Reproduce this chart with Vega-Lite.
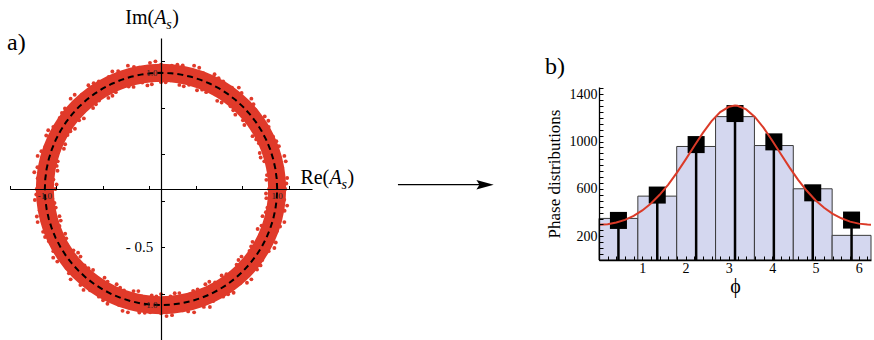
{
  "$schema": "https://vega.github.io/schema/vega-lite/v6.json",
  "padding": {"left": 7, "top": 7, "right": 0, "bottom": 0},
  "background": "white",
  "spacing": 51,
  "config": {
    "view": {"stroke": null},
    "font": "Liberation Serif",
    "axis": {"labelFont": "Liberation Serif", "titleFont": "Liberation Serif", "domainColor": "black", "tickColor": "black", "labelColor": "black", "titleColor": "black", "grid": false, "labelFlush": false, "labelOverlap": false, "titleFontWeight": "normal"}
  },
  "datasets": {
    "circle": [
      {"k":0,"re":1,"im":0},{"k":1,"re":0.9962,"im":0.0872},{"k":2,"re":0.9848,"im":0.1736},{"k":3,"re":0.9659,"im":0.2588},{"k":4,"re":0.9397,"im":0.342},{"k":5,"re":0.9063,"im":0.4226},{"k":6,"re":0.866,"im":0.5},{"k":7,"re":0.8192,"im":0.5736},{"k":8,"re":0.766,"im":0.6428},{"k":9,"re":0.7071,"im":0.7071},{"k":10,"re":0.6428,"im":0.766},{"k":11,"re":0.5736,"im":0.8192},{"k":12,"re":0.5,"im":0.866},{"k":13,"re":0.4226,"im":0.9063},{"k":14,"re":0.342,"im":0.9397},{"k":15,"re":0.2588,"im":0.9659},{"k":16,"re":0.1736,"im":0.9848},{"k":17,"re":0.0872,"im":0.9962},{"k":18,"re":0,"im":1},
      {"k":19,"re":-0.0872,"im":0.9962},{"k":20,"re":-0.1736,"im":0.9848},{"k":21,"re":-0.2588,"im":0.9659},{"k":22,"re":-0.342,"im":0.9397},{"k":23,"re":-0.4226,"im":0.9063},{"k":24,"re":-0.5,"im":0.866},{"k":25,"re":-0.5736,"im":0.8192},{"k":26,"re":-0.6428,"im":0.766},{"k":27,"re":-0.7071,"im":0.7071},{"k":28,"re":-0.766,"im":0.6428},{"k":29,"re":-0.8192,"im":0.5736},{"k":30,"re":-0.866,"im":0.5},{"k":31,"re":-0.9063,"im":0.4226},{"k":32,"re":-0.9397,"im":0.342},{"k":33,"re":-0.9659,"im":0.2588},{"k":34,"re":-0.9848,"im":0.1736},{"k":35,"re":-0.9962,"im":0.0872},{"k":36,"re":-1,"im":0},
      {"k":37,"re":-0.9962,"im":-0.0872},{"k":38,"re":-0.9848,"im":-0.1736},{"k":39,"re":-0.9659,"im":-0.2588},{"k":40,"re":-0.9397,"im":-0.342},{"k":41,"re":-0.9063,"im":-0.4226},{"k":42,"re":-0.866,"im":-0.5},{"k":43,"re":-0.8192,"im":-0.5736},{"k":44,"re":-0.766,"im":-0.6428},{"k":45,"re":-0.7071,"im":-0.7071},{"k":46,"re":-0.6428,"im":-0.766},{"k":47,"re":-0.5736,"im":-0.8192},{"k":48,"re":-0.5,"im":-0.866},{"k":49,"re":-0.4226,"im":-0.9063},{"k":50,"re":-0.342,"im":-0.9397},{"k":51,"re":-0.2588,"im":-0.9659},{"k":52,"re":-0.1736,"im":-0.9848},{"k":53,"re":-0.0872,"im":-0.9962},{"k":54,"re":0,"im":-1},
      {"k":55,"re":0.0872,"im":-0.9962},{"k":56,"re":0.1736,"im":-0.9848},{"k":57,"re":0.2588,"im":-0.9659},{"k":58,"re":0.342,"im":-0.9397},{"k":59,"re":0.4226,"im":-0.9063},{"k":60,"re":0.5,"im":-0.866},{"k":61,"re":0.5736,"im":-0.8192},{"k":62,"re":0.6428,"im":-0.766},{"k":63,"re":0.7071,"im":-0.7071},{"k":64,"re":0.766,"im":-0.6428},{"k":65,"re":0.8192,"im":-0.5736},{"k":66,"re":0.866,"im":-0.5},{"k":67,"re":0.9063,"im":-0.4226},{"k":68,"re":0.9397,"im":-0.342},{"k":69,"re":0.9659,"im":-0.2588},{"k":70,"re":0.9848,"im":-0.1736},{"k":71,"re":0.9962,"im":-0.0872},{"k":72,"re":1,"im":0}
    ],
    "ring": [
      {"re":1.07,"im":0},{"re":0.93,"im":0},{"re":1.086,"im":0.095},{"re":0.907,"im":0.079},{"re":1.044,"im":0.184},{"re":0.926,"im":0.163},{"re":1.062,"im":0.285},{"re":0.889,"im":0.238},{"re":1.015,"im":0.369},{"re":0.85,"im":0.31},{"re":0.965,"im":0.45},{"re":0.843,"im":0.393},
      {"re":0.927,"im":0.535},{"re":0.788,"im":0.455},{"re":0.893,"im":0.625},{"re":0.77,"im":0.539},{"re":0.812,"im":0.681},{"re":0.705,"im":0.591},{"re":0.778,"im":0.778},{"re":0.64,"im":0.64},{"re":0.694,"im":0.827},{"re":0.598,"im":0.712},{"re":0.611,"im":0.872},{"re":0.522,"im":0.745},
      {"re":0.535,"im":0.927},{"re":0.47,"im":0.814},{"re":0.461,"im":0.988},{"re":0.389,"im":0.834},{"re":0.363,"im":0.996},{"re":0.31,"im":0.85},{"re":0.285,"im":1.062},{"re":0.241,"im":0.898},{"re":0.187,"im":1.064},{"re":0.158,"im":0.896},{"re":0.093,"im":1.061},{"re":0.082,"im":0.936},
      {"re":0,"im":1.07},{"re":0,"im":0.92},{"re":-0.095,"im":1.086},{"re":-0.079,"im":0.902},{"re":-0.184,"im":1.044},{"re":-0.161,"im":0.916},{"re":-0.285,"im":1.062},{"re":-0.236,"im":0.879},{"re":-0.369,"im":1.015},{"re":-0.321,"im":0.883},{"re":-0.45,"im":0.965},{"re":-0.389,"im":0.834},
      {"re":-0.535,"im":0.927},{"re":-0.453,"im":0.784},{"re":-0.625,"im":0.893},{"re":-0.533,"im":0.762},{"re":-0.681,"im":0.812},{"re":-0.585,"im":0.697},{"re":-0.778,"im":0.778},{"re":-0.665,"im":0.665},{"re":-0.827,"im":0.694},{"re":-0.705,"im":0.591},{"re":-0.872,"im":0.611},{"re":-0.741,"im":0.519},
      {"re":-0.927,"im":0.535},{"re":-0.805,"im":0.465},{"re":-0.988,"im":0.461},{"re":-0.825,"im":0.385},{"re":-0.996,"im":0.363},{"re":-0.883,"im":0.321},{"re":-1.062,"im":0.285},{"re":-0.889,"im":0.238},{"re":-1.064,"im":0.187},{"re":-0.891,"im":0.157},{"re":-1.061,"im":0.093},{"re":-0.926,"im":0.081},
      {"re":-1.07,"im":0},{"re":-0.91,"im":0},{"re":-1.086,"im":-0.095},{"re":-0.936,"im":-0.082},{"re":-1.044,"im":-0.184},{"re":-0.906,"im":-0.16},{"re":-1.062,"im":-0.285},{"re":-0.874,"im":-0.234},{"re":-1.015,"im":-0.369},{"re":-0.874,"im":-0.318},{"re":-0.965,"im":-0.45},{"re":-0.825,"im":-0.385},
      {"re":-0.927,"im":-0.535},{"re":-0.814,"im":-0.47},{"re":-0.893,"im":-0.625},{"re":-0.754,"im":-0.528},{"re":-0.812,"im":-0.681},{"re":-0.693,"im":-0.582},{"re":-0.778,"im":-0.778},{"re":-0.658,"im":-0.658},{"re":-0.694,"im":-0.827},{"re":-0.585,"im":-0.697},{"re":-0.611,"im":-0.872},{"re":-0.539,"im":-0.77},
      {"re":-0.535,"im":-0.927},{"re":-0.46,"im":-0.797},{"re":-0.461,"im":-0.988},{"re":-0.382,"im":-0.82},{"re":-0.363,"im":-0.996},{"re":-0.318,"im":-0.874},{"re":-0.285,"im":-1.062},{"re":-0.236,"im":-0.879},{"re":-0.187,"im":-1.064},{"re":-0.163,"im":-0.926},{"re":-0.093,"im":-1.061},{"re":-0.08,"im":-0.917},
      {"re":0,"im":-1.07},{"re":0,"im":-0.905},{"re":0.095,"im":-1.086},{"re":0.081,"im":-0.926},{"re":0.184,"im":-1.044},{"re":0.158,"im":-0.896},{"re":0.285,"im":-1.062},{"re":0.243,"im":-0.908},{"re":0.369,"im":-1.015},{"re":0.315,"im":-0.865},{"re":0.45,"im":-0.965},{"re":0.382,"im":-0.82},
      {"re":0.535,"im":-0.927},{"re":0.465,"im":-0.805},{"re":0.625,"im":-0.893},{"re":0.522,"im":-0.745},{"re":0.681,"im":-0.812},{"re":0.604,"im":-0.72},{"re":0.778,"im":-0.778},{"re":0.651,"im":-0.651},{"re":0.827,"im":-0.694},{"re":0.693,"im":-0.582},{"re":0.872,"im":-0.611},{"re":0.762,"im":-0.533},
      {"re":0.927,"im":-0.535},{"re":0.788,"im":-0.455},{"re":0.988,"im":-0.461},{"re":0.852,"im":-0.397},{"re":0.996,"im":-0.363},{"re":0.865,"im":-0.315},{"re":1.062,"im":-0.285},{"re":0.874,"im":-0.234},{"re":1.064,"im":-0.187},{"re":0.916,"im":-0.161},{"re":1.061,"im":-0.093},{"re":0.907,"im":-0.079},
      {"re":1.079,"im":0.047},{"re":0.912,"im":0.12},{"re":1.074,"im":0.238},{"re":0.858,"im":0.271},{"re":0.993,"im":0.411},{"re":0.82,"im":0.427},{"re":0.924,"im":0.588},{"re":0.718,"im":0.551},{"re":0.796,"im":0.73},{"re":0.622,"im":0.678},{"re":0.67,"im":0.873},{"re":0.484,"im":0.759},{"re":0.496,"im":0.954},{"re":0.354,"im":0.855},{"re":0.329,"im":1.044},{"re":0.196,"im":0.884},{"re":0.141,"im":1.071},{"re":0.04,"im":0.919},
      {"re":-0.048,"im":1.099},{"re":-0.117,"im":0.892},{"re":-0.233,"im":1.05},{"re":-0.278,"im":0.882},{"re":-0.419,"im":1.012},{"re":-0.418,"im":0.803},{"re":-0.58,"im":0.911},{"re":-0.56,"im":0.73},{"re":-0.743,"im":0.811},{"re":-0.664,"im":0.608},{"re":-0.853,"im":0.654},{"re":-0.78,"im":0.497},{"re":-0.971,"im":0.506},{"re":-0.836,"im":0.346},{"re":-1.03,"im":0.325},{"re":-0.898,"im":0.199},{"re":-1.091,"im":0.144},{"re":-0.899,"im":0.039},
      {"re":-1.074,"im":-0.047},{"re":-0.917,"im":-0.121},{"re":-1.069,"im":-0.237},{"re":-0.863,"im":-0.272},{"re":-0.998,"im":-0.413},{"re":-0.816,"im":-0.425},{"re":-0.928,"im":-0.591},{"re":-0.714,"im":-0.548},{"re":-0.793,"im":-0.726},{"re":-0.625,"im":-0.682},{"re":-0.667,"im":-0.869},{"re":-0.486,"im":-0.763},{"re":-0.499,"im":-0.958},{"re":-0.352,"im":-0.85},{"re":-0.331,"im":-1.049},{"re":-0.195,"im":-0.879},{"re":-0.14,"im":-1.066},{"re":-0.04,"im":-0.924},
      {"re":0.048,"im":-1.094},{"re":0.118,"im":-0.897},{"re":0.234,"im":-1.054},{"re":0.277,"im":-0.877},{"re":0.421,"im":-1.016},{"re":0.416,"im":-0.798},{"re":0.578,"im":-0.907},{"re":0.563,"im":-0.734},{"re":0.74,"im":-0.807},{"re":0.667,"im":-0.611},{"re":0.857,"im":-0.658},{"re":0.776,"im":-0.494},{"re":0.976,"im":-0.508},{"re":0.832,"im":-0.344},{"re":1.025,"im":-0.323},{"re":0.903,"im":-0.2},{"re":1.086,"im":-0.143},{"re":0.904,"im":-0.039}
    ],
    "bins": [
      {"phi":0,"phi_end":0.8976,"value":351},
      {"phi":0.8976,"phi_end":1.7952,"value":539},
      {"phi":1.7952,"phi_end":2.6928,"value":958},
      {"phi":2.6928,"phi_end":3.5904,"value":1210},
      {"phi":3.5904,"phi_end":4.488,"value":966},
      {"phi":4.488,"phi_end":5.3856,"value":601},
      {"phi":5.3856,"phi_end":6.2832,"value":208}
    ],
    "points": [
      {"phi":0.449,"value":334},{"phi":1.346,"value":548},{"phi":2.244,"value":974},{"phi":3.142,"value":1236},{"phi":4.039,"value":997},{"phi":4.937,"value":567},{"phi":5.834,"value":337}
    ],
    "fit": [
      {"phi":0,"value":298},{"phi":0.2,"value":302},{"phi":0.4,"value":316},{"phi":0.6,"value":339},{"phi":0.8,"value":373},{"phi":1.0,"value":418},{"phi":1.2,"value":477},{"phi":1.4,"value":550},{"phi":1.6,"value":637},{"phi":1.8,"value":737},{"phi":2.0,"value":847},{"phi":2.2,"value":962},{"phi":2.4,"value":1073},{"phi":2.6,"value":1172},{"phi":2.8,"value":1248},{"phi":3.0,"value":1293},{"phi":3.1416,"value":1303},{"phi":3.2,"value":1301},{"phi":3.4,"value":1271},{"phi":3.6,"value":1207},{"phi":3.8,"value":1117},{"phi":4.0,"value":1009},{"phi":4.2,"value":894},{"phi":4.4,"value":782},{"phi":4.6,"value":677},{"phi":4.8,"value":584},{"phi":5.0,"value":505},{"phi":5.2,"value":441},{"phi":5.4,"value":390},{"phi":5.6,"value":352},{"phi":5.8,"value":324},{"phi":6.0,"value":307},{"phi":6.2,"value":299},{"phi":6.2832,"value":298}
    ],
    "yLabels": [
      {"re":-0.03,"im":1.0,"label":"1.0"},
      {"re":-0.03,"im":-1.0,"label":"-1.0"}
    ],
    "xLabels": [
      {"re":1.0,"im":-0.03,"label":"1.0"},
      {"re":-1.0,"im":-0.03,"label":"-1.0"}
    ]
  },
  "hconcat": [
    {
      "width": 302,
      "height": 302,
      "layer": [
        {
          "data": {"name": "circle"},
          "mark": {"type": "line", "color": "#e03a2a", "strokeWidth": 18, "strokeCap": "round", "strokeJoin": "round"},
          "encoding": {
            "x": {"field": "re", "type": "quantitative", "scale": {"domain": [-1.3, 1.3], "nice": false, "zero": false},
              "axis": {"orient": "bottom", "offset": -151, "zindex": 1, "values": [-1.3,-1.2,-1.1,-1.0,-0.9,-0.8,-0.7,-0.6,-0.5,-0.4,-0.3,-0.2,-0.1,0,0.1,0.2,0.3,0.4,0.5,0.6,0.7,0.8,0.9,1.0,1.1,1.2,1.3],
                "tickSize": -3.5, "tickWidth": 1, "domainWidth": 1.2, "labels": false, "title": null}},
            "y": {"field": "im", "type": "quantitative", "scale": {"domain": [-1.3, 1.3], "nice": false, "zero": false},
              "axis": {"orient": "left", "offset": -151, "zindex": 1, "values": [-1.3,-1.2,-1.1,-1.0,-0.9,-0.8,-0.7,-0.6,-0.5,-0.4,-0.3,-0.2,-0.1,0,0.1,0.2,0.3,0.4,0.5,0.6,0.7,0.8,0.9,1.0,1.1,1.2,1.3],
                "tickSize": -3.5, "tickWidth": 1, "domainWidth": 1.2, "labels": false, "title": null}},
            "order": {"field": "k", "type": "quantitative"}
          }
        },
        {
          "data": {"name": "ring"},
          "mark": {"type": "circle", "color": "#e03a2a", "size": 15, "opacity": 1},
          "encoding": {
            "x": {"field": "re", "type": "quantitative"},
            "y": {"field": "im", "type": "quantitative"}
          }
        },
        {
          "data": {"name": "circle"},
          "mark": {"type": "line", "color": "black", "strokeWidth": 2, "strokeDash": [6, 4]},
          "encoding": {
            "x": {"field": "re", "type": "quantitative"},
            "y": {"field": "im", "type": "quantitative"},
            "order": {"field": "k", "type": "quantitative"}
          }
        },
        {
          "data": {"name": "yLabels"},
          "mark": {"type": "text", "align": "right", "baseline": "middle", "fontSize": 9, "font": "Liberation Serif", "color": "#222"},
          "encoding": {
            "x": {"field": "re", "type": "quantitative"},
            "y": {"field": "im", "type": "quantitative"},
            "text": {"field": "label"}
          }
        },
        {
          "data": {"name": "xLabels"},
          "mark": {"type": "text", "align": "center", "baseline": "top", "fontSize": 9, "font": "Liberation Serif", "color": "#222"},
          "encoding": {
            "x": {"field": "re", "type": "quantitative"},
            "y": {"field": "im", "type": "quantitative"},
            "text": {"field": "label"}
          }
        },
        {
          "data": {"values": [{}]},
          "mark": {"type": "text", "text": "- 0.5", "align": "right", "baseline": "middle", "fontSize": 15, "font": "Liberation Serif", "color": "black"},
          "encoding": {"x": {"datum": -0.066}, "y": {"datum": -0.5}}
        },
        {
          "data": {"values": [{}]},
          "mark": {"type": "rule", "color": "black", "strokeWidth": 1.3},
          "encoding": {"x": {"datum": 2.04}, "x2": {"datum": 2.8}, "y": {"datum": 0.037}}
        },
        {
          "data": {"values": [{}]},
          "mark": {"type": "point", "shape": "M-1,-0.55L1,0L-1,0.55L-0.65,0Z", "filled": true, "color": "black", "size": 300, "opacity": 1},
          "encoding": {"x": {"datum": 2.79}, "y": {"datum": 0.037}}
        },
        {
          "data": {"values": [{}]},
          "mark": {"type": "text", "text": "a)", "align": "left", "baseline": "alphabetic", "fontSize": 24, "font": "Liberation Serif", "color": "black"},
          "encoding": {"x": {"datum": -1.325}, "y": {"datum": 1.198}}
        },
        {
          "data": {"values": [{}]},
          "mark": {"type": "text", "text": "Re(", "align": "left", "baseline": "alphabetic", "fontSize": 20, "font": "Liberation Serif", "color": "black"},
          "encoding": {"x": {"datum": 1.2}, "y": {"datum": 0.043}}
        },
        {
          "data": {"values": [{}]},
          "mark": {"type": "text", "text": "A", "align": "left", "baseline": "alphabetic", "fontSize": 20, "fontStyle": "italic", "font": "Liberation Serif", "color": "black", "dx": 29},
          "encoding": {"x": {"datum": 1.2}, "y": {"datum": 0.043}}
        },
        {
          "data": {"values": [{}]},
          "mark": {"type": "text", "text": "s", "align": "left", "baseline": "alphabetic", "fontSize": 14, "fontStyle": "italic", "font": "Liberation Serif", "color": "black", "dx": 41, "dy": 5},
          "encoding": {"x": {"datum": 1.2}, "y": {"datum": 0.043}}
        },
        {
          "data": {"values": [{}]},
          "mark": {"type": "text", "text": ")", "align": "left", "baseline": "alphabetic", "fontSize": 20, "font": "Liberation Serif", "color": "black", "dx": 47},
          "encoding": {"x": {"datum": 1.2}, "y": {"datum": 0.043}}
        },
        {
          "data": {"values": [{}]},
          "mark": {"type": "text", "text": "Im(", "align": "left", "baseline": "alphabetic", "fontSize": 20, "font": "Liberation Serif", "color": "black"},
          "encoding": {"x": {"datum": -0.307}, "y": {"datum": 1.422}}
        },
        {
          "data": {"values": [{}]},
          "mark": {"type": "text", "text": "A", "align": "left", "baseline": "alphabetic", "fontSize": 20, "fontStyle": "italic", "font": "Liberation Serif", "color": "black", "dx": 29},
          "encoding": {"x": {"datum": -0.307}, "y": {"datum": 1.422}}
        },
        {
          "data": {"values": [{}]},
          "mark": {"type": "text", "text": "s", "align": "left", "baseline": "alphabetic", "fontSize": 14, "fontStyle": "italic", "font": "Liberation Serif", "color": "black", "dx": 41, "dy": 5},
          "encoding": {"x": {"datum": -0.307}, "y": {"datum": 1.422}}
        },
        {
          "data": {"values": [{}]},
          "mark": {"type": "text", "text": ")", "align": "left", "baseline": "alphabetic", "fontSize": 20, "font": "Liberation Serif", "color": "black", "dx": 47},
          "encoding": {"x": {"datum": -0.307}, "y": {"datum": 1.422}}
        }
      ]
    },
    {
      "spacing": 0,
      "vconcat": [
        {
          "width": 10,
          "height": 17,
          "data": {"values": []},
          "mark": "point"
        },
        {
          "width": 272,
          "height": 173,
          "title": {"text": "b)", "anchor": "start", "frame": "bounds", "fontSize": 24, "font": "Liberation Serif", "fontWeight": "normal", "color": "black", "offset": 2},
          "encoding": {
            "x": {"field": "phi", "type": "quantitative", "scale": {"domain": [0, 6.2832], "nice": false, "zero": false},
              "axis": {"values": [0,0.2,0.4,0.6,0.8,1,1.2,1.4,1.6,1.8,2,2.2,2.4,2.6,2.8,3,3.2,3.4,3.6,3.8,4,4.2,4.4,4.6,4.8,5,5.2,5.4,5.6,5.8,6,6.2],
                "zindex": 1, "tickSize": -4, "domainWidth": 1.3, "labelFontSize": 14, "labelPadding": 5,
                "labelExpr": "(datum.value == 1 || datum.value == 2 || datum.value == 3 || datum.value == 4 || datum.value == 5 || datum.value == 6) ? format(datum.value, 'd') : ''",
                "title": "ϕ", "titleFontSize": 20, "titlePadding": 1}},
            "y": {"field": "value", "type": "quantitative", "scale": {"domain": [0, 1460], "nice": false, "zero": false},
              "axis": {"values": [0,50,100,150,200,250,300,350,400,450,500,550,600,650,700,750,800,850,900,950,1000,1050,1100,1150,1200,1250,1300,1350,1400,1450],
                "zindex": 1, "tickSize": -4, "domainWidth": 1.3, "labelFontSize": 14, "labelPadding": 6,
                "labelExpr": "(datum.value == 200 || datum.value == 600 || datum.value == 1000 || datum.value == 1400) ? format(datum.value, 'd') : ''",
                "title": "Phase distributions", "titleFontSize": 17, "titlePadding": 6}}
          },
          "layer": [
            {
              "data": {"name": "bins"},
              "mark": {"type": "bar", "fill": "#d4d7ef", "stroke": "#3a3a3a", "strokeWidth": 1},
              "encoding": {"x2": {"field": "phi_end"}, "y2": {"datum": 0}}
            },
            {
              "data": {"name": "points"},
              "mark": {"type": "rule", "color": "black", "strokeWidth": 2.5},
              "encoding": {"y2": {"datum": 0}}
            },
            {
              "data": {"name": "points"},
              "mark": {"type": "point", "shape": "square", "filled": true, "color": "black", "size": 290, "opacity": 1},
              "encoding": {}
            },
            {
              "data": {"name": "fit"},
              "mark": {"type": "line", "color": "#db3a28", "strokeWidth": 2},
              "encoding": {}
            }
          ]
        }
      ]
    }
  ]
}
